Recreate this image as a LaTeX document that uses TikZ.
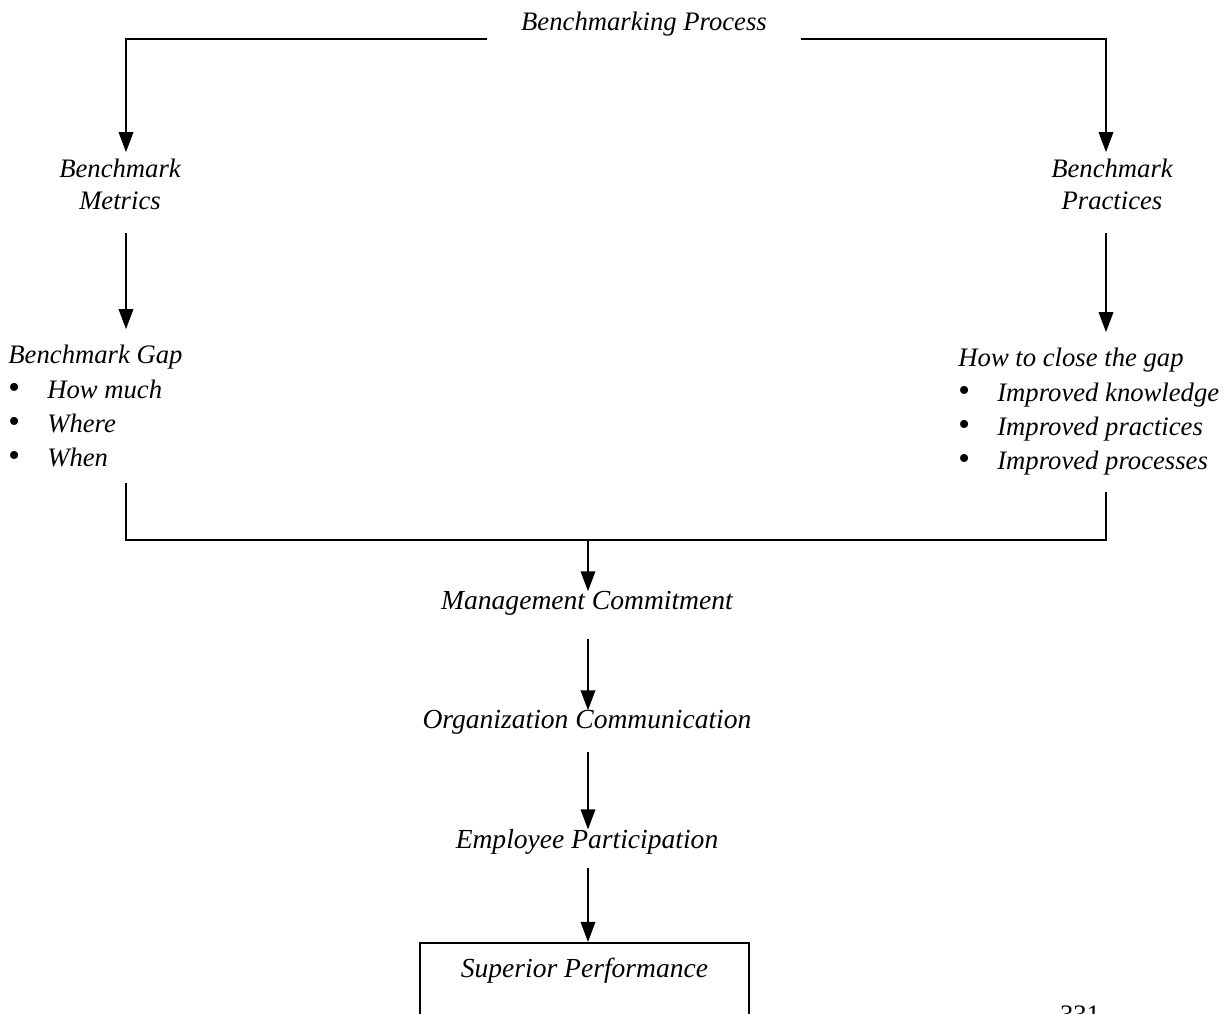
\documentclass[tikz,border=0pt]{standalone}
\usepackage{fontspec}
\setmainfont{Liberation Serif}
\usetikzlibrary{arrows.meta}

\newcommand{\bul}{\makebox[17.5pt][l]{\upshape\fontsize{15}{15}\selectfont\textbullet}}

\begin{document}
\begin{tikzpicture}[x=0.45pt,y=-0.45pt,
    stage/.style ={font=\fontsize{12}{14.5}\selectfont\itshape, inner xsep=0pt, inner ysep=3pt, align=center, anchor=base},
    stepnode/.style ={font=\fontsize{12.4}{14.5}\selectfont\itshape, inner sep=0pt, anchor=base},
    list/.style  ={font=\fontsize{12}{15.5}\selectfont\itshape, inner xsep=0pt, inner ysep=7pt, align=left, anchor=base west},
    arr/.style   ={-{Triangle[width=6.5pt,length=9pt]}, line width=0.9pt},
    link/.style  ={line width=0.9pt}]
   \useasboundingbox (0,0) rectangle (1232,1014);

   % base anchor of a multi-line node = baseline of its last line
   \node[stage, inner xsep=15pt, inner ysep=1pt] (title) at (644,31) {Benchmarking Process};
   \node[stage] (metrics)   at (120,210)  {Benchmark\\Metrics};
   \node[stage] (practices) at (1112,210) {Benchmark\\Practices};
   \node[list] (gap)   at (8,467)   {Benchmark Gap\\ \bul How much\\ \bul Where\\ \bul When};
   \node[list] (close) at (958,470) {How to close the gap\\ \bul Improved knowledge\\ \bul Improved practices\\ \bul Improved processes};

   \node[stepnode] (mgmt) at (587,610) {Management Commitment};
   \node[stepnode] (org)  at (587,729) {Organization Communication};
   \node[stepnode] (emp)  at (587,849) {Employee Participation};
   \node[draw, link, font=\fontsize{12.4}{14.5}\selectfont\itshape, anchor=north, minimum width=148pt,
         inner ysep=7pt, text depth=20pt] (perf) at (584.5,942) {Superior Performance};
   \node[stepnode, font=\fontsize{12}{14.5}\selectfont\upshape] (page) at (1080,1024) {331};

   \coordinate (lcol) at (126,0);
   \coordinate (rcol) at (1106,0);
   \coordinate (jn)   at (588,540);

   \draw[arr] (title.south west) -| (lcol |- metrics.north);
   \draw[arr] (title.south east) -| (rcol |- practices.north);
   \draw[arr, shorten <=7pt] (lcol |- metrics.south) -- (lcol |- gap.north);
   \draw[arr, shorten <=7pt] (rcol |- practices.south) -- (rcol |- close.north);

   \draw[link] (lcol |- gap.south) |- (jn) -| (rcol |- close.south);
   \draw[arr] (jn) -- (jn |- mgmt.north);
   \draw[arr, shorten <=10pt]  (jn |- mgmt.south) -- (jn |- org.north);
   \draw[arr, shorten <=7.5pt] (jn |- org.south)  -- (jn |- emp.north);
   \draw[arr, shorten <=5.5pt] (jn |- emp.south)  -- (jn |- perf.north);
\end{tikzpicture}
\end{document}
